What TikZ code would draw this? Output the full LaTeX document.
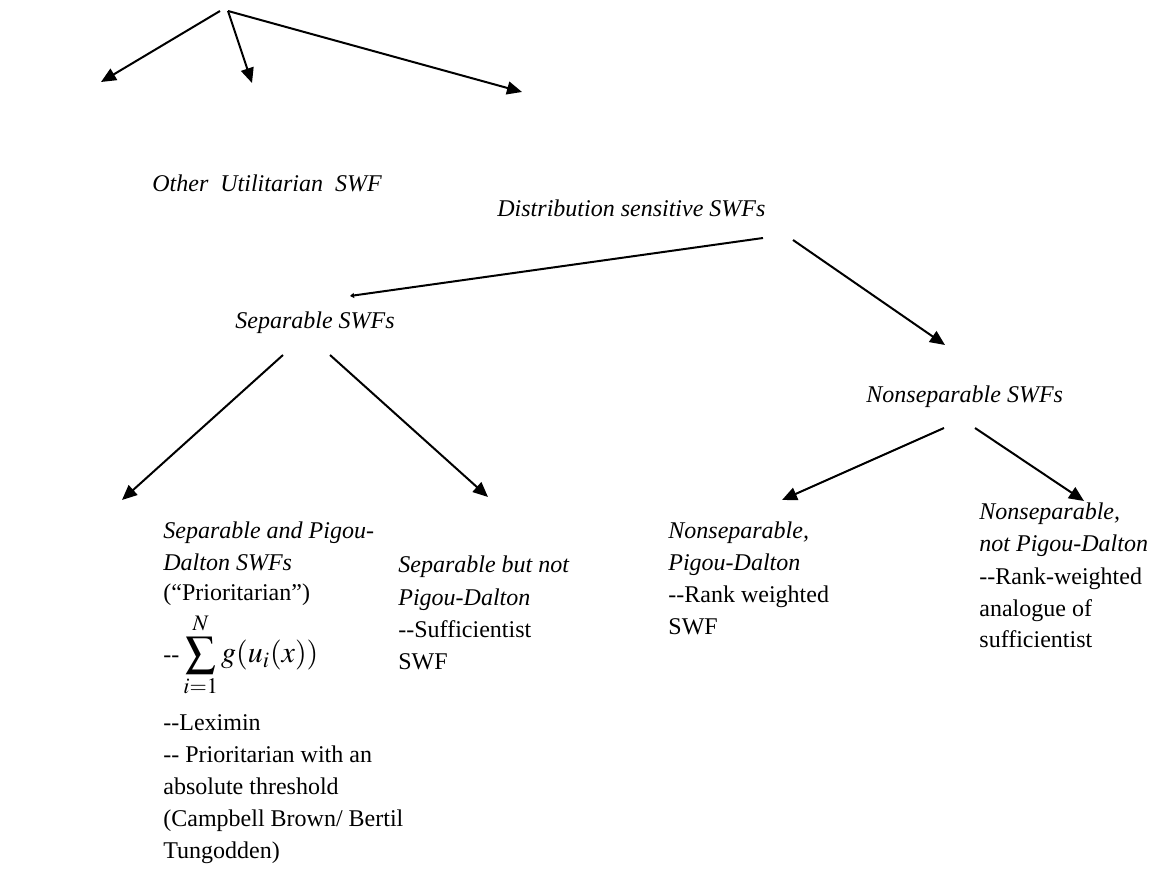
\documentclass[tikz,border=0pt]{standalone}
\usepackage{mathptmx}
\usepackage[no-math]{fontspec}
\setmainfont{Liberation Serif}
\usetikzlibrary{positioning, arrows.meta}

\newcommand{\dd}{-\kern0pt-}

\begin{document}
\begin{tikzpicture}[
    x=0.5pt, y=-0.5pt,
    lbl/.style={anchor=base west, inner sep=0pt, align=left,
                font=\fontsize{12}{16}\selectfont},
    ital/.style={lbl, font=\fontsize{12}{16}\selectfont\itshape},
    arr/.style={-{Triangle[length=7.5pt, width=6.5pt]}, line width=1pt},
    tiny/.style={-{Triangle[length=2pt, width=2.5pt]}, line width=1pt}
  ]
  \useasboundingbox (0,0) rectangle (1172,886);

  % top level (base anchors sit on the last line)
  \coordinate (root) at (224,11);
  \node[ital] (other) at (152,192) {Other};
  \node[ital] (util) at (220,192) {Utilitarian~ SWF};
  \node[ital] (dist) at (497,217) {Distribution sensitive SWFs};

  % second level
  \node[ital] (sep) at (235,329) {Separable SWFs};
  \node[ital] (nonsep) at (866,403) {Nonseparable SWFs};

  % leaves
  \node[ital] (sepPD) at (163,571) {Separable and Pigou-\\Dalton SWFs};
  \node[lbl] (prio) at (163,601) {(“Prioritarian”)};
  \node[lbl, anchor=west] (sumfn) at (163,655)
    {\dd\,\fontsize{15}{16}\selectfont$\displaystyle\sum_{i=1}^{N} g(u_i(x))$};
  \node[lbl] (lexi) at (163,858) {\dd Leximin\\\dd{} Prioritarian with an\\absolute threshold\\(Campbell Brown/ Bertil\\Tungodden)};

  \node[lbl] (sepNPD) at (398,669) {\textit{Separable but not}\\\textit{Pigou-Dalton}\\\dd Sufficientist\\SWF};
  \node[lbl] (nsPD) at (668,635) {\textit{Nonseparable,}\\\textit{Pigou-Dalton}\\\dd Rank weighted\\SWF};
  \node[lbl] (nsNPD) at (979,648) {\textit{Nonseparable,}\\\textit{not Pigou-Dalton}\\\dd Rank-weighted\\analogue of\\sufficientist};

  % arrow ends
  \coordinate (a1) at (101,82);
  \coordinate (a2) at (252,83);
  \coordinate (a3) at (522,92);
  \coordinate (d1) at (763,238);
  \coordinate (d2) at (793,240);
  \coordinate (b1) at (350,296);
  \coordinate (b2) at (945,345);
  \coordinate (s1) at (283,355);
  \coordinate (s2) at (330,355);
  \coordinate (c1) at (122,500);
  \coordinate (c2) at (488,497);
  \coordinate (n1) at (944,428);
  \coordinate (n2) at (975,428);
  \coordinate (e1) at (782,500);
  \coordinate (e2) at (1084,501);

  \draw[arr] ([xshift=-2]root) -- (a1);
  \draw[arr] ([xshift=2]root) -- (a2);
  \draw[arr] ([xshift=2]root) -- (a3);
  \draw[tiny] (d1) -- (b1);
  \draw[arr] (d2) -- (b2);
  \draw[arr] (s1) -- (c1);
  \draw[arr] (s2) -- (c2);
  \draw[arr] (n1) -- (e1);
  \draw[arr] (n2) -- (e2);
\end{tikzpicture}
\end{document}
